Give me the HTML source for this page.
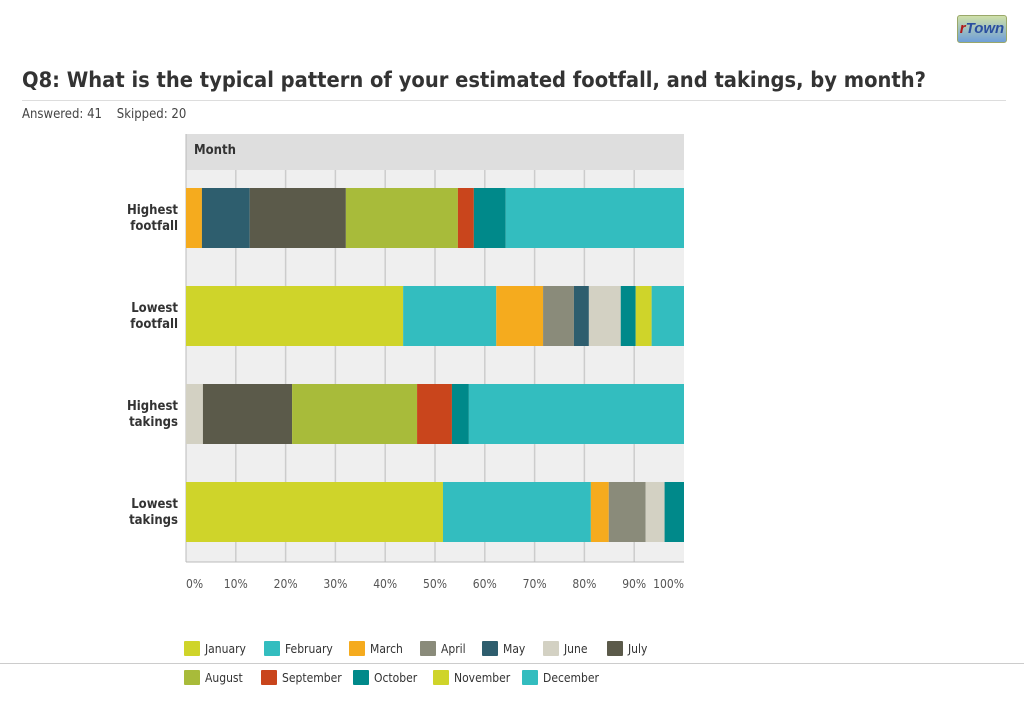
<!DOCTYPE html>
<html><head><meta charset="utf-8"><style>
body{margin:0;width:1024px;height:709px;background:#fff;font-family:"Liberation Sans",sans-serif;position:relative;overflow:hidden}
.logo{position:absolute;left:957px;top:15px;width:48px;height:26px;border:1px solid #9aa86a;border-radius:3px;background:linear-gradient(#cfe0a8,#6f9fd8);font:italic bold 15px "Liberation Sans",sans-serif;color:#2a4fa0;text-align:center;line-height:26px}
.logo span{color:#b01818}
h1{position:absolute;left:22px;top:68px;margin:0;font-size:21.7px;font-weight:bold;color:#333;font-family:"DejaVu Sans Condensed","Liberation Sans",sans-serif}
.rule{position:absolute;left:22px;top:100px;width:984px;height:1px;background:#ddd}
.meta{position:absolute;left:22px;top:107px;font-size:13px;color:#444;font-family:"DejaVu Sans Condensed","Liberation Sans",sans-serif}
.rule2{position:absolute;left:0;top:663px;width:1024px;height:1px;background:#ccc}
</style></head><body>
<div class="logo"><span>r</span>Town</div>
<h1>Q8: What is the typical pattern of your estimated footfall, and takings, by month?</h1>
<div class="rule"></div>
<div class="meta">Answered: 41 &nbsp;&nbsp; Skipped: 20</div>
<div class="rule2"></div>
<svg id="chart" width="1024" height="709" style="position:absolute;left:0;top:0"></svg>
<script>
const categories=["Highest footfall","Lowest footfall","Highest takings","Lowest takings"];
const months=["January","February","March","April","May","June","July","August","September","October","November","December"];
const colors=["#cfd42a","#33bdbf","#f5ab1e","#8a8b7a","#2e5e6e","#d3d1c3","#5b5a4a","#a8bb3a","#c9451c","#00898a","#cfd42a","#33bdbf"];
const hfValues=[0,0,3.2,0,9.6,0,19.3,22.5,3.2,6.4,0,35.8];
const lfValues=[43.6,18.7,9.4,6.2,3.0,6.4,0,0,0,3.0,3.2,6.5];
const htValues=[0,0,0,0,0,3.4,17.9,25.1,7.0,3.4,0,43.2];
const ltValues=[51.6,29.7,3.6,7.4,0,3.8,0,0,0,3.9,0,0];
const tickLabels=["0%","10%","20%","30%","40%","50%","60%","70%","80%","90%","100%"];
const series=[hfValues,lfValues,htValues,ltValues];
const NS="http://www.w3.org/2000/svg",svg=document.getElementById('chart');
const X0=186,X1=684,plotTop=134,plotBot=562,rowY=[188,286,384,482],barH=60;
const FF='"DejaVu Sans Condensed","Liberation Sans",sans-serif';
const xs=v=>X0+(X1-X0)*v/100;
function el(t,a,p){const e=document.createElementNS(NS,t);for(const k in a)e.setAttribute(k,a[k]);(p||svg).appendChild(e);return e;}
let r=el('rect',{x:X0,y:plotTop,width:X1-X0,height:plotBot-plotTop,fill:'#efefef'});


tickLabels.forEach((t,i)=>{const x=xs(i*10);
 if(i>0&&i<10){const g=el('line',{x1:x,x2:x,y1:170,y2:plotBot,stroke:'#ccc','stroke-width':1.5});
 
 }
 const tx=el('text',{x:x,y:588,'font-size':12,fill:'#555','text-anchor':i==0?'start':(i==10?'end':'middle'),'font-family':FF});tx.textContent=t;
 
 });
let h=el('rect',{x:X0,y:plotTop,width:X1-X0,height:36,fill:'#dedede'});


let ht=el('text',{x:194,y:154,'font-size':13,'font-weight':'bold',fill:'#333','font-family':FF});ht.textContent='Month';


let ax=el('line',{x1:X0,x2:X0,y1:plotTop,y2:plotBot,stroke:'#bbb'});


let bx=el('line',{x1:X0,x2:X1,y1:plotBot,y2:plotBot,stroke:'#bbb'});


series.forEach((vals,ri)=>{let acc=0;const y=rowY[ri];
 vals.forEach((v,mi)=>{if(v<=0)return;const b=el('rect',{x:xs(acc),y:y,width:xs(acc+v)-xs(acc),height:barH,fill:colors[mi]});
 
 acc+=v;});
 const words=categories[ri].split(' ');
 words.forEach((w,wi)=>{const t=el('text',{x:178,y:y+26+wi*16,'font-size':13,'font-weight':'bold',fill:'#333','text-anchor':'end','font-family':FF});t.textContent=w;
 
 });});
const legX=[184,264,349,420,482,543,607,184,261,353,433,522];
months.forEach((m,i)=>{const y=i<7?641:670;
 const g=el('g',{});
 
 
 el('rect',{x:legX[i],y:y,width:16,height:15,rx:1,fill:colors[i]},g);
 const t=el('text',{x:legX[i]+21,y:y+12,'font-size':12,fill:'#333','font-family':FF},g);t.textContent=m;});
</script>
</body></html>
